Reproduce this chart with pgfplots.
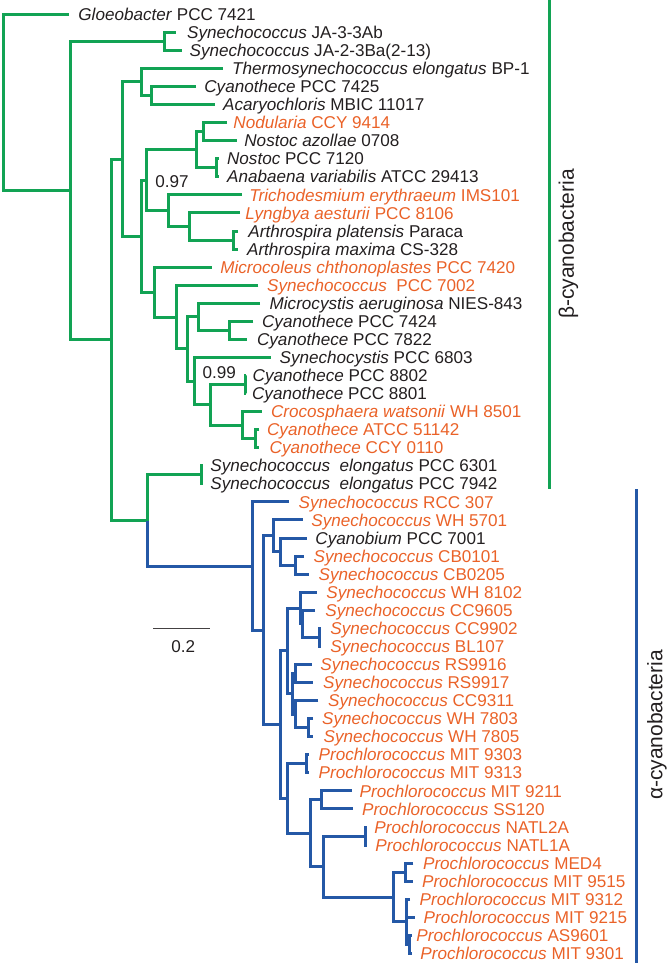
\documentclass[border=0pt]{standalone}
\usepackage{fontspec}
\setmainfont{Liberation Sans}
\usepackage{pgfplots}
\pgfplotsset{compat=1.18}
\definecolor{tgreen}{RGB}{18,163,84}
\definecolor{tblue}{RGB}{36,88,166}
\definecolor{torange}{RGB}{234,98,40}
\definecolor{tblack}{RGB}{35,31,32}
\tikzset{lbl/.style={anchor=base west,inner sep=0pt,yshift=-3.06pt,font=\fontsize{8.55}{10}\selectfont}}
\newcommand{\lf}[5]{\node[lbl,text=#3] at (axis cs:#1,#2) {\textit{#4}#5};}
\begin{document}
\begin{tikzpicture}
\begin{axis}[width=334pt,height=481.5pt,scale only axis,
  xmin=0,xmax=668,ymin=0,ymax=963,y dir=reverse,
  hide axis,clip=false,unbounded coords=jump]
% green (beta) branches
\addplot[tgreen,line width=1.5pt,mark=none] coordinates {
(69,14.3)(3,14.3)(3,190.6)(70,190.6) (nan,nan)
(164,41.39)(70,41.39)(70,339.8)(111.5,339.8) (nan,nan)
(175.7,32.36)(164,32.36)(164,50.42)(181.7,50.42) (nan,nan)
(122,159.1)(111.5,159.1)(111.5,520.5)(147.7,520.5) (nan,nan)
(141.7,82.0)(122,82.0)(122,236.15)(141.7,236.15) (nan,nan)
(222.7,68.48)(141.7,68.48)(141.7,95.57)(151.7,95.57) (nan,nan)
(196,86.54)(151.7,86.54)(151.7,104.6)(215,104.6) (nan,nan)
(146.7,180.2)(141.7,180.2)(141.7,292.1)(154,292.1) (nan,nan)
(196.7,149.75)(146.7,149.75)(146.7,210.7)(168.3,210.7) (nan,nan)
(203.3,131.69)(196.7,131.69)(196.7,167.81)(216.7,167.81) (nan,nan)
(227,122.66)(203.3,122.66)(203.3,140.72)(236.7,140.72) (nan,nan)
(219,158.78)(216.7,158.78)(216.7,176.84)(219,176.84) (nan,nan)
(242,194.9)(168.3,194.9)(168.3,226.5)(189.3,226.5) (nan,nan)
(240,212.96)(189.3,212.96)(189.3,240.05)(233.3,240.05) (nan,nan)
(238,231.02)(233.3,231.02)(233.3,249.08)(238,249.08) (nan,nan)
(211.7,267.14)(154,267.14)(154,317.1)(176.7,317.1) (nan,nan)
(258.3,285.2)(176.7,285.2)(176.7,348.97)(187.3,348.97) (nan,nan)
(198.3,316.8)(187.3,316.8)(187.3,381.15)(194,381.15) (nan,nan)
(260,303.26)(198.3,303.26)(198.3,330.35)(229.3,330.35) (nan,nan)
(253.3,321.32)(229.3,321.32)(229.3,339.38)(247.3,339.38) (nan,nan)
(270.7,357.44)(194,357.44)(194,404.85)(210,404.85) (nan,nan)
(245,384.53)(210,384.53)(210,425.17)(242.7,425.17) (nan,nan)
(246,375.5)(245,375.5)(245,393.56)(246,393.56) (nan,nan)
(261.7,411.62)(242.7,411.62)(242.7,438.71)(255,438.71) (nan,nan)
(259.3,429.68)(255,429.68)(255,447.74)(259.3,447.74) (nan,nan)
(201.7,474.83)(147.7,474.83)(147.7,520.5) (nan,nan)
(202.5,465.8)(201.7,465.8)(201.7,483.86)(202.5,483.86) (nan,nan)
(549.5,0)(549.5,489)
};
% blue (alpha) branches
\addplot[tblue,line width=1.5pt,mark=none] coordinates {
(147.7,520.5)(147.7,566.1)(252.7,566.1) (nan,nan)
(289,501.92)(252.7,501.92)(252.7,630.25)(263.3,630.25) (nan,nan)
(273,535.8)(263.3,535.8)(263.3,724.7)(280,724.7) (nan,nan)
(302.7,519.98)(273,519.98)(273,551.6)(280.5,551.6) (nan,nan)
(306.7,538.04)(280.5,538.04)(280.5,565.13)(295,565.13) (nan,nan)
(304,556.1)(295,556.1)(295,574.16)(309.3,574.16) (nan,nan)
(287.5,650.9)(280,650.9)(280,798.5)(287,798.5) (nan,nan)
(300,608.0)(287.5,608.0)(287.5,693.8)(292,693.8) (nan,nan)
(316.7,592.22)(300,592.22)(300,623.8)(302,623.8) (nan,nan)
(315,610.28)(302,610.28)(302,637.37)(319,637.37) (nan,nan)
(321,628.34)(319,628.34)(319,646.4)(321,646.4) (nan,nan)
(295,673.5)(292,673.5)(292,714.1)(295.5,714.1) (nan,nan)
(311.7,664.46)(295,664.46)(295,682.52)(313.3,682.52) (nan,nan)
(318.3,700.58)(295.5,700.58)(295.5,727.67)(308.3,727.67) (nan,nan)
(313,718.64)(308.3,718.64)(308.3,736.7)(313,736.7) (nan,nan)
(306.7,763.8)(287,763.8)(287,833.2)(310,833.2) (nan,nan)
(308.5,754.76)(306.7,754.76)(306.7,772.82)(308.5,772.82) (nan,nan)
(321.7,799.9)(310,799.9)(310,866.5)(323.3,866.5) (nan,nan)
(351.7,790.88)(321.7,790.88)(321.7,808.94)(353.3,808.94) (nan,nan)
(365,836.0)(323.3,836.0)(323.3,897.0)(393.3,897.0) (nan,nan)
(367,827.0)(365,827.0)(365,845.06)(367,845.06) (nan,nan)
(405,872.15)(393.3,872.15)(393.3,921.8)(406.7,921.8) (nan,nan)
(413.3,863.12)(405,863.12)(405,881.18)(413.3,881.18) (nan,nan)
(410,899.24)(406.7,899.24)(406.7,944.4)(409,944.4) (nan,nan)
(406.7,917.3)(415,917.3) (nan,nan)
(411.7,935.36)(409,935.36)(409,953.42)(411.7,953.42) (nan,nan)
(636.7,489)(636.7,963)
};
% scale bar
\addplot[tblack!85,line width=0.7pt,mark=none] coordinates {(153.3,628.3)(210,628.3)};
\node[anchor=base,inner sep=0pt,font=\fontsize{8.55}{10}\selectfont,text=tblack] at (axis cs:183.3,652.7) {0.2};
\node[anchor=base west,inner sep=0pt,font=\fontsize{8.55}{10}\selectfont,text=tblack] at (axis cs:155,187.3) {0.97};
\node[anchor=base west,inner sep=0pt,font=\fontsize{8.55}{10}\selectfont,text=tblack] at (axis cs:202.3,378.3) {0.99};
% clade labels
\node[rotate=90,inner sep=0pt,font=\fontsize{10.5}{12}\selectfont,text=tblack] at (axis cs:568.5,244) {β-cyanobacteria};
\node[rotate=90,inner sep=0pt,font=\fontsize{10.5}{12}\selectfont,text=tblack] at (axis cs:657,725) {α-cyanobacteria};
% leaf labels
\lf{78}{14.3}{tblack}{Gloeobacter}{ PCC 7421}
\lf{186.7}{32.36}{tblack}{Synechococcus}{ JA-3-3Ab}
\lf{189.3}{50.42}{tblack}{Synechococcus}{ JA-2-3Ba(2-13)}
\lf{231.7}{68.48}{tblack}{Thermosynechococcus elongatus}{ BP-1}
\lf{204}{86.54}{tblack}{Cyanothece}{ PCC 7425}
\lf{222.7}{104.6}{tblack}{Acaryochloris}{ MBIC 11017}
\lf{233}{122.66}{torange}{Nodularia}{ CCY 9414}
\lf{244}{140.72}{tblack}{Nostoc azollae}{ 0708}
\lf{226.7}{158.78}{tblack}{Nostoc}{ PCC 7120}
\lf{226.7}{176.84}{tblack}{Anabaena variabilis}{ ATCC 29413}
\lf{249}{194.9}{torange}{Trichodesmium erythraeum}{ IMS101}
\lf{245}{212.96}{torange}{Lyngbya aesturii}{ PCC 8106}
\lf{248}{231.02}{tblack}{Arthrospira platensis}{ Paraca}
\lf{246.7}{249.08}{tblack}{Arthrospira maxima}{ CS-328}
\lf{220}{267.14}{torange}{Microcoleus chthonoplastes}{ PCC 7420}
\lf{266.7}{285.2}{torange}{Synechococcus}{\ \ PCC 7002}
\lf{269.3}{303.26}{tblack}{Microcystis aeruginosa}{ NIES-843}
\lf{261.7}{321.32}{tblack}{Cyanothece}{ PCC 7424}
\lf{256.7}{339.38}{tblack}{Cyanothece}{ PCC 7822}
\lf{279.3}{357.44}{tblack}{Synechocystis}{ PCC 6803}
\lf{252.3}{375.5}{tblack}{Cyanothece}{ PCC 8802}
\lf{251.7}{393.56}{tblack}{Cyanothece}{ PCC 8801}
\lf{270.7}{411.62}{torange}{Crocosphaera watsonii}{ WH 8501}
\lf{266.7}{429.68}{torange}{Cyanothece}{ ATCC 51142}
\lf{269.3}{447.74}{torange}{Cyanothece}{ CCY 0110}
\lf{210}{465.8}{tblack}{Synechococcus\ \ elongatus}{ PCC 6301}
\lf{210}{483.86}{tblack}{Synechococcus\ \ elongatus}{ PCC 7942}
\lf{298.3}{501.92}{torange}{Synechococcus}{ RCC 307}
\lf{311}{519.98}{torange}{Synechococcus}{ WH 5701}
\lf{315}{538.04}{tblack}{Cyanobium}{ PCC 7001}
\lf{313.3}{556.1}{torange}{Synechococcus}{ CB0101}
\lf{318.3}{574.16}{torange}{Synechococcus}{ CB0205}
\lf{326}{592.22}{torange}{Synechococcus}{ WH 8102}
\lf{325}{610.28}{torange}{Synechococcus}{ CC9605}
\lf{330}{628.34}{torange}{Synechococcus}{ CC9902}
\lf{330}{646.4}{torange}{Synechococcus}{ BL107}
\lf{320}{664.46}{torange}{Synechococcus}{ RS9916}
\lf{322.7}{682.52}{torange}{Synechococcus}{ RS9917}
\lf{327.7}{700.58}{torange}{Synechococcus}{ CC9311}
\lf{321.7}{718.64}{torange}{Synechococcus}{ WH 7803}
\lf{323.3}{736.7}{torange}{Synechococcus}{ WH 7805}
\lf{318.3}{754.76}{torange}{Prochlorococcus}{ MIT 9303}
\lf{318.3}{772.82}{torange}{Prochlorococcus}{ MIT 9313}
\lf{359.3}{790.88}{torange}{Prochlorococcus}{ MIT 9211}
\lf{361.7}{808.94}{torange}{Prochlorococcus}{ SS120}
\lf{374}{827.0}{torange}{Prochlorococcus}{ NATL2A}
\lf{375}{845.06}{torange}{Prochlorococcus}{ NATL1A}
\lf{422.7}{863.12}{torange}{Prochlorococcus}{ MED4}
\lf{421.7}{881.18}{torange}{Prochlorococcus}{ MIT 9515}
\lf{419.3}{899.24}{torange}{Prochlorococcus}{ MIT 9312}
\lf{423.3}{917.3}{torange}{Prochlorococcus}{ MIT 9215}
\lf{416}{935.36}{torange}{Prochlorococcus}{ AS9601}
\lf{420}{953.42}{torange}{Prochlorococcus}{ MIT 9301}
\end{axis}
\pgfresetboundingbox
\path[use as bounding box] (current axis.south west) rectangle (current axis.north east);
\end{tikzpicture}
\end{document}
